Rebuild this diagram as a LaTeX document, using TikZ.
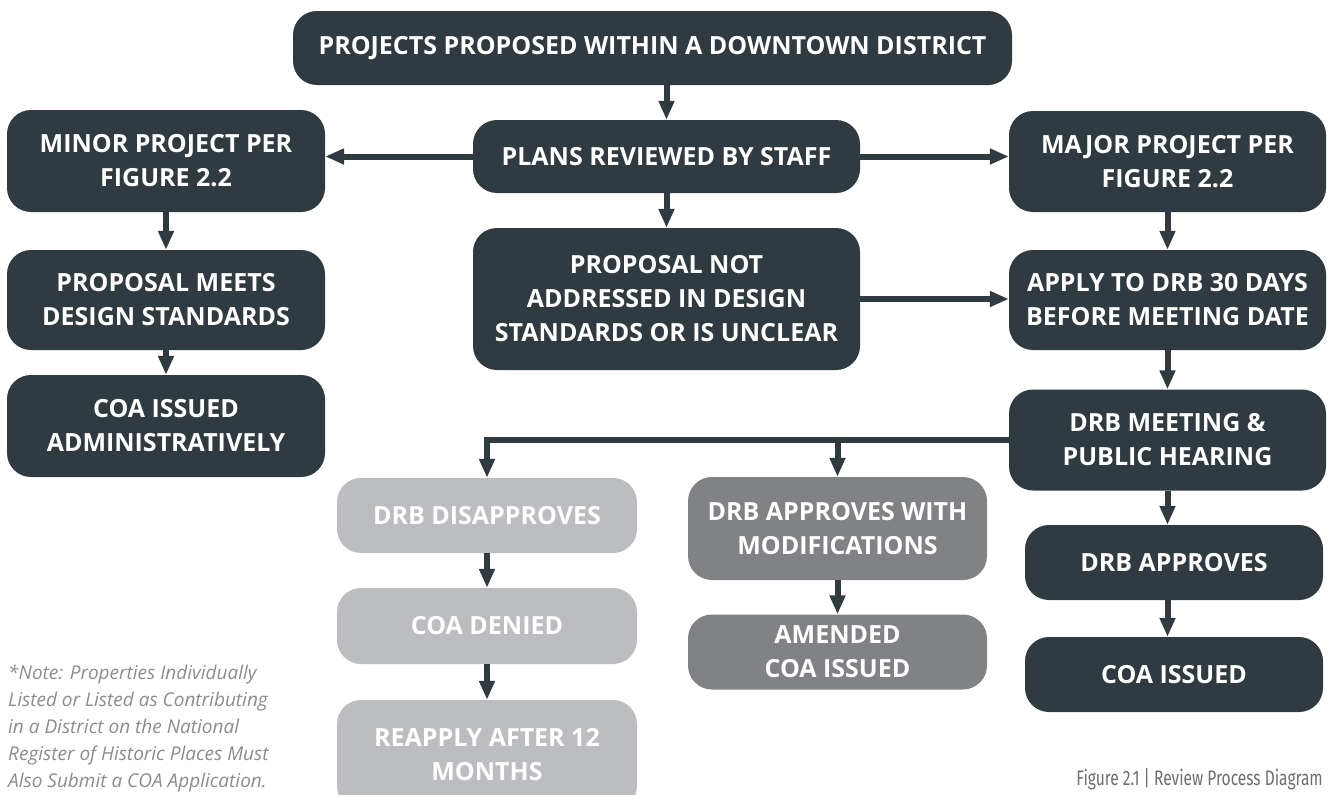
\documentclass[tikz,border=0pt]{standalone}
\usepackage{fontspec}
\setmainfont{Open Sans}
\newfontfamily\capfont[FakeStretch=0.74]{Fira Sans}
\usepackage{tikz}
\usetikzlibrary{arrows.meta}
\usetikzlibrary{calc}

\definecolor{slate}{HTML}{2F3B40}
\definecolor{midgrey}{HTML}{808285}
\definecolor{lightgrey}{HTML}{BCBDC0}
\definecolor{notegrey}{HTML}{8C8C8C}
\definecolor{capgrey}{HTML}{6E6E6E}

\begin{document}
\begin{tikzpicture}[x=1pt,y=-1pt,
		stepbox/.style={rectangle,rounded corners=24pt,fill=slate,text=white,align=center,
			font=\fontsize{25}{34}\selectfont\bfseries,inner sep=0pt},
		modbox/.style={stepbox,fill=midgrey},
		denybox/.style={stepbox,fill=lightgrey},
		arr/.style={-{Triangle[length=19pt,width=15pt]},slate,line width=6pt}]
			\useasboundingbox (0,0) rectangle (1328,795);
			% boxes
			\node [stepbox,minimum width=719pt,minimum height=74pt] (top) at (652.5,48) {PROJECTS PROPOSED WITHIN A DOWNTOWN DISTRICT};
			\node [stepbox,minimum width=387pt,minimum height=73pt] (plans) at (666.5,156.5) {PLANS REVIEWED BY STAFF};
			\node [stepbox,minimum width=318pt,minimum height=102pt] (minor) at (166,161) {MINOR PROJECT PER\\FIGURE 2.2};
			\node [stepbox,minimum width=317pt,minimum height=101pt] (major) at (1167.5,161.5) {MAJOR PROJECT PER\\FIGURE 2.2};
			\node [stepbox,minimum width=318pt,minimum height=100pt] (meets) at (166,300) {PROPOSAL MEETS\\DESIGN STANDARDS};
			\node [stepbox,minimum width=387pt,minimum height=142pt] (unclear) at (666.5,299) {PROPOSAL NOT\\ADDRESSED IN DESIGN\\STANDARDS OR IS UNCLEAR};
			\node [stepbox,minimum width=317pt,minimum height=100pt] (apply) at (1167.5,300) {APPLY TO DRB 30 DAYS\\BEFORE MEETING DATE};
			\node [stepbox,minimum width=318pt,minimum height=102pt] (coaadmin) at (166,426) {COA ISSUED\\ADMINISTRATIVELY};
			\node [stepbox,minimum width=317pt,minimum height=101pt] (meeting) at (1167.5,440) {DRB MEETING \&\\PUBLIC HEARING};
			\node [denybox,minimum width=300pt,minimum height=75pt] (disapp) at (487,515.5) {DRB DISAPPROVES};
			\node [denybox,minimum width=300pt,minimum height=76pt] (denied) at (487,626) {COA DENIED};
			\node [denybox,minimum width=300pt,minimum height=110pt] (reapply) at (487,755) {REAPPLY AFTER 12\\MONTHS};
			\node [modbox,minimum width=299pt,minimum height=103pt] (mods) at (837.5,528.5) {DRB APPROVES WITH\\MODIFICATIONS};
			\node [modbox,minimum width=299pt,minimum height=75pt] (amended) at (837.5,652) {AMENDED\\COA ISSUED};
			\node [stepbox,minimum width=298pt,minimum height=75pt] (drbapp) at (1174,562.5) {DRB APPROVES};
			\node [stepbox,minimum width=298pt,minimum height=75pt] (coaissued) at (1174,674.5) {COA ISSUED};
			% texts
			\node [anchor=north west,align=left,text=notegrey,inner sep=0pt,
				font=\fontsize{19}{27}\selectfont\itshape] (note) at (8,665) {*Note: Properties Individually\\Listed or Listed as Contributing\\in a District on the National\\Register of Historic Places Must\\Also Submit a COA Application.};
			\node [anchor=south east,text=capgrey,inner sep=0pt,
				font=\fontsize{21}{24}\capfont] (caption) at (1323,790) {Figure 2.1 | Review Process Diagram};
			% arrows
			\draw [arr] (top.south -| plans.north) -- (plans.north);
			\draw [arr] (plans.west) -- (minor.east |- plans.west);
			\draw [arr] (plans.east) -- (major.west |- plans.east);
			\draw [arr] (plans.south) -- (unclear.north);
			\draw [arr] (unclear.east) -- (apply.west |- unclear.east);
			\draw [arr] (minor.south) -- (meets.north);
			\draw [arr] (meets.south) -- (coaadmin.north);
			\draw [arr] (major.south) -- (apply.north);
			\draw [arr] (apply.south) -- (meeting.north);
			\draw [arr] (meeting.west) -| (disapp.north);
			\draw [arr] (meeting.west -| mods.north) -- (mods.north);
			\draw [arr] (meeting.south) -- (meeting.south |- drbapp.north);
			\draw [arr] (drbapp.south -| meeting.south) -- (meeting.south |- coaissued.north);
			\draw [arr] (disapp.south) -- (denied.north);
			\draw [arr] (denied.south) -- (reapply.north);
			\draw [arr] (mods.south) -- (amended.north);
		\end{tikzpicture}
\end{document}
